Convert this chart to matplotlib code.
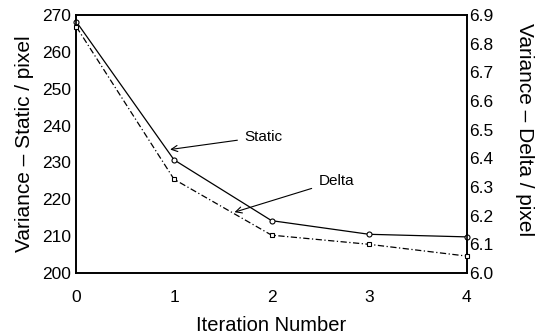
import matplotlib
matplotlib.use("Agg")
import matplotlib.pyplot as plt

plt.rcParams['font.family'] = ['Liberation Sans', 'DejaVu Sans']

iterations = [0, 1, 2, 3, 4]
static_var = [268.1, 230.7, 214.2, 210.5, 209.8]
delta_var = [6.858, 6.327, 6.132, 6.100, 6.059]

left_ticks = [200, 210, 220, 230, 240, 250, 260, 270]
right_ticks = [6.0, 6.1, 6.2, 6.3, 6.4, 6.5, 6.6, 6.7, 6.8, 6.9]

fig = plt.figure(figsize=(5.36, 3.36), dpi=100)
ax = fig.add_axes([0.1427, 0.1875, 0.7280, 0.7679])
ax2 = ax.twinx()

ax.plot(iterations, static_var, color='black', lw=0.9, marker='o', ms=3.6,
        mfc='white', mec='black', mew=0.8, zorder=3, clip_on=False)
ax2.plot(iterations, delta_var, color='black', lw=0.9, ls=(0, (5, 2, 1, 2)),
         marker='s', ms=2.8, mfc='white', mec='black', mew=0.8, zorder=3, clip_on=False)

ax.set_xlim(0, 4)
ax.set_ylim(200, 270)
ax2.set_ylim(6.0, 6.9)
ax.set_xticks(iterations)
ax.set_yticks(left_ticks)
ax2.set_yticks(right_ticks)
ax2.set_yticklabels([f"{v:.1f}" for v in right_ticks])

ax.tick_params(axis='x', length=0, pad=12, labelsize=12.5)
ax.tick_params(axis='y', length=0, pad=4, labelsize=12.5)
ax2.tick_params(axis='y', length=0, pad=1.8, labelsize=12.5)

for a in (ax, ax2):
    for s in a.spines.values():
        s.set_linewidth(1.2)

ax.set_xlabel("Iteration Number", fontsize=14.5, va='bottom')
ax.xaxis.set_label_coords(0.5, -0.240)
ax.set_ylabel("Variance \u2013 Static / pixel", fontsize=15, va='center')
ax.yaxis.set_label_coords(-0.1330, 0.5)
ax2.set_ylabel("Variance \u2013 Delta / pixel", fontsize=15, rotation=270,
               va='center')
ax2.yaxis.set_label_coords(1.147, 0.554)

# callouts naming the two curves
ax.annotate("Static", xy=(0.96, 233.5), xytext=(1.72, 237.0),
            fontsize=11, va='center', ha='left',
            arrowprops=dict(arrowstyle='->', color='black', lw=0.8,
                            shrinkA=3, shrinkB=0))
ax.annotate("Delta", xy=(1.62, 216.5), xytext=(2.48, 225.0),
            fontsize=11, va='center', ha='left',
            arrowprops=dict(arrowstyle='->', color='black', lw=0.8,
                            shrinkA=3, shrinkB=0))

fig.savefig("out.png", dpi=100)
